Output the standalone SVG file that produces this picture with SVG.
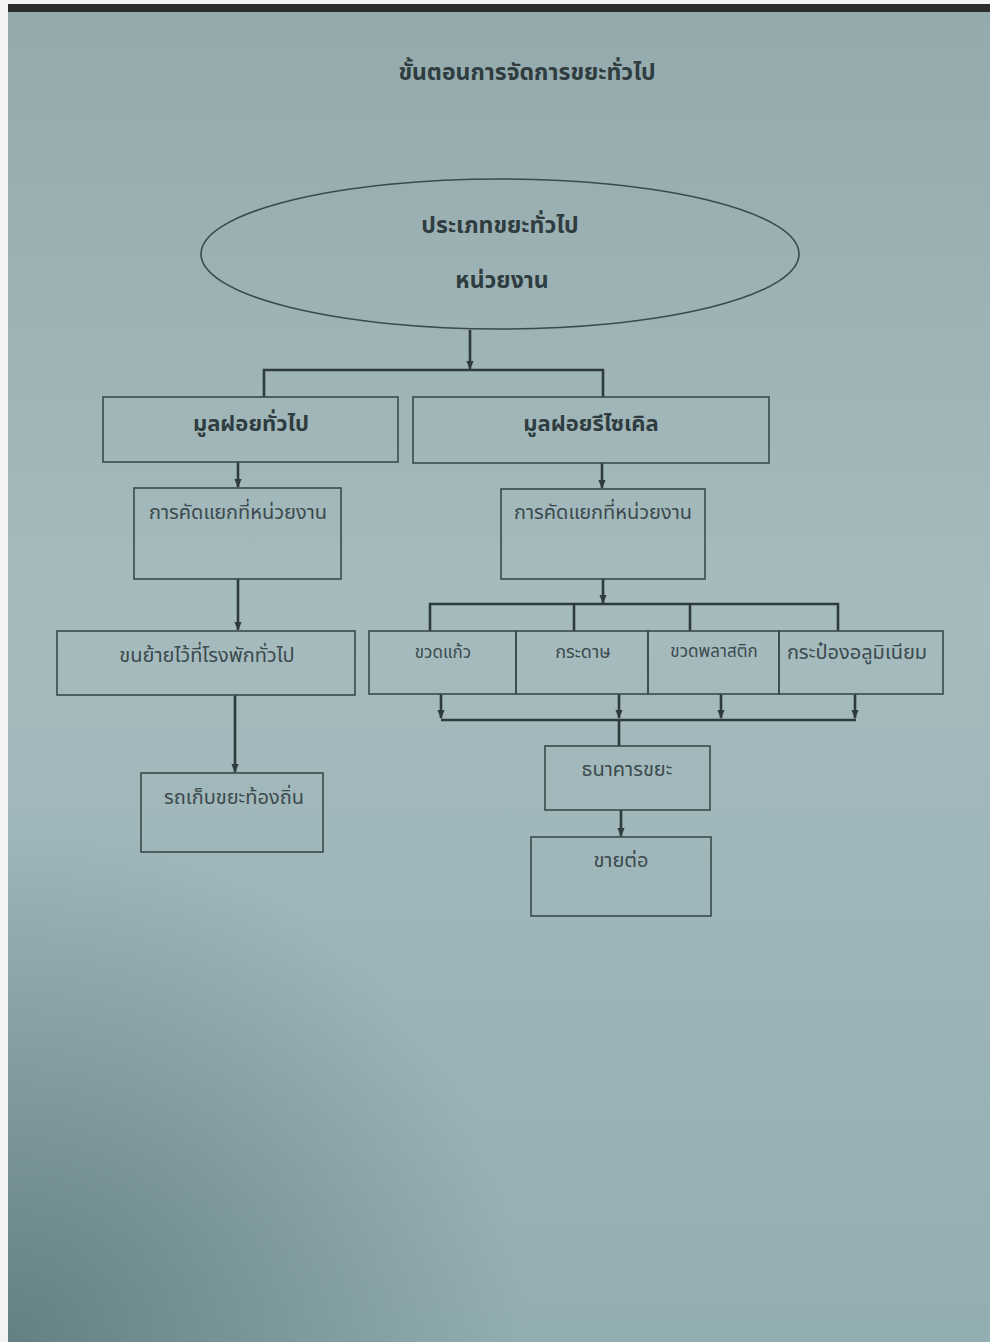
<svg xmlns="http://www.w3.org/2000/svg" width="990" height="1342" viewBox="0 0 990 1342">
<defs>
<linearGradient id="paper" x1="0" y1="0" x2="0" y2="1">
<stop offset="0" stop-color="#94aaad"/>
<stop offset="0.45" stop-color="#a6bbbe"/>
<stop offset="1" stop-color="#93aeb3"/>
</linearGradient>
<radialGradient id="shade" cx="8" cy="1342" r="520" gradientUnits="userSpaceOnUse">
<stop offset="0" stop-color="#3d5a5e" stop-opacity="0.55"/>
<stop offset="1" stop-color="#3d5a5e" stop-opacity="0"/>
</radialGradient>
<marker id="arr" viewBox="0 0 10 10" refX="9" refY="5" markerWidth="9" markerHeight="9" orient="auto" markerUnits="userSpaceOnUse">
<path d="M0,1 L10,5 L0,9 z" fill="#2e3b3e"/>
</marker>
</defs>
<style>
.box{fill:none;stroke:#3a4a4d;stroke-width:1.6}
.ln{fill:none;stroke:#2e3b3e;stroke-width:2.6}
.t{font-family:"Noto Sans Thai","Noto Sans","DejaVu Sans","Liberation Sans",sans-serif;fill:#3b4a4d;text-anchor:middle}
.b{font-weight:bold;font-size:22px;fill:#2f3d40}
.n{font-size:20px}
.s{font-size:17px}
</style>
<rect x="0" y="0" width="990" height="1342" fill="#f2f4f4"/>
<rect x="8" y="11" width="982" height="1331" fill="url(#paper)"/>
<rect x="8" y="11" width="982" height="1331" fill="url(#shade)"/>
<rect x="8" y="4" width="982" height="8" fill="#2b2d2a"/>

<text class="t b" x="527" y="80" style="font-size:23px">ขั้นตอนการจัดการขยะทั่วไป</text>

<g id="connectors">
<line class="ln" x1="470" y1="330" x2="470" y2="369" marker-end="url(#arr)"/>
<polyline class="ln" points="264,397 264,370 603,370 603,397"/>
<line class="ln" x1="238" y1="462" x2="238" y2="487" marker-end="url(#arr)"/>
<line class="ln" x1="602" y1="463" x2="602" y2="488" marker-end="url(#arr)"/>
<line class="ln" x1="238" y1="579" x2="238" y2="630" marker-end="url(#arr)"/>
<line class="ln" x1="235" y1="695" x2="235" y2="772" marker-end="url(#arr)"/>
<line class="ln" x1="603" y1="579" x2="603" y2="603" marker-end="url(#arr)"/>
<polyline class="ln" points="430,631 430,604 838,604 838,631"/>
<line class="ln" x1="574" y1="604" x2="574" y2="631"/>
<line class="ln" x1="690" y1="604" x2="690" y2="631"/>
<line class="ln" x1="441" y1="694" x2="441" y2="718" marker-end="url(#arr)"/>
<line class="ln" x1="619" y1="694" x2="619" y2="718" marker-end="url(#arr)"/>
<line class="ln" x1="721" y1="694" x2="721" y2="718" marker-end="url(#arr)"/>
<line class="ln" x1="855" y1="694" x2="855" y2="718" marker-end="url(#arr)"/>
<line class="ln" x1="441" y1="720" x2="856" y2="720"/>
<line class="ln" x1="619" y1="720" x2="619" y2="746"/>
<line class="ln" x1="621" y1="810" x2="621" y2="836" marker-end="url(#arr)"/>
</g>

<g id="n-type">
<ellipse class="box" cx="500" cy="254" rx="299" ry="75"/>
<text class="t b" x="500" y="233" style="font-size:23px">ประเภทขยะทั่วไป</text>
<text class="t b" x="502" y="288" style="font-size:23px">หน่วยงาน</text>
</g>
<g id="n-general">
<rect class="box" x="103" y="397" width="295" height="65"/>
<text class="t b" x="251" y="431">มูลฝอยทั่วไป</text>
</g>
<g id="n-recycle">
<rect class="box" x="413" y="397" width="356" height="66"/>
<text class="t b" x="591" y="431">มูลฝอยรีไซเคิล</text>
</g>
<g id="n-sort1">
<rect class="box" x="134" y="488" width="207" height="91"/>
<text class="t n" x="238" y="519">การคัดแยกที่หน่วยงาน</text>
</g>
<g id="n-sort2">
<rect class="box" x="501" y="489" width="204" height="90"/>
<text class="t n" x="603" y="519">การคัดแยกที่หน่วยงาน</text>
</g>
<g id="n-move">
<rect class="box" x="57" y="631" width="298" height="64"/>
<text class="t n" x="207" y="662">ขนย้ายไว้ที่โรงพักทั่วไป</text>
</g>
<g id="n-truck">
<rect class="box" x="141" y="773" width="182" height="79"/>
<text class="t n" x="234" y="804">รถเก็บขยะท้องถิ่น</text>
</g>
<g id="n-glass">
<rect class="box" x="369" y="631" width="147" height="63"/>
<text class="t s" x="443" y="658">ขวดแก้ว</text>
</g>
<g id="n-paper">
<rect class="box" x="516" y="631" width="132" height="63"/>
<text class="t s" x="583" y="658" style="font-size:18px">กระดาษ</text>
</g>
<g id="n-plastic">
<rect class="box" x="648" y="631" width="131" height="63"/>
<text class="t s" x="714" y="657">ขวดพลาสติก</text>
</g>
<g id="n-can">
<rect class="box" x="779" y="631" width="164" height="63"/>
<text class="t n" x="857" y="659">กระป๋องอลูมิเนียม</text>
</g>
<g id="n-bank">
<rect class="box" x="545" y="746" width="165" height="64"/>
<text class="t n" x="627" y="776">ธนาคารขยะ</text>
</g>
<g id="n-sell">
<rect class="box" x="531" y="837" width="180" height="79"/>
<text class="t n" x="621" y="867">ขายต่อ</text>
</g>
</svg>
